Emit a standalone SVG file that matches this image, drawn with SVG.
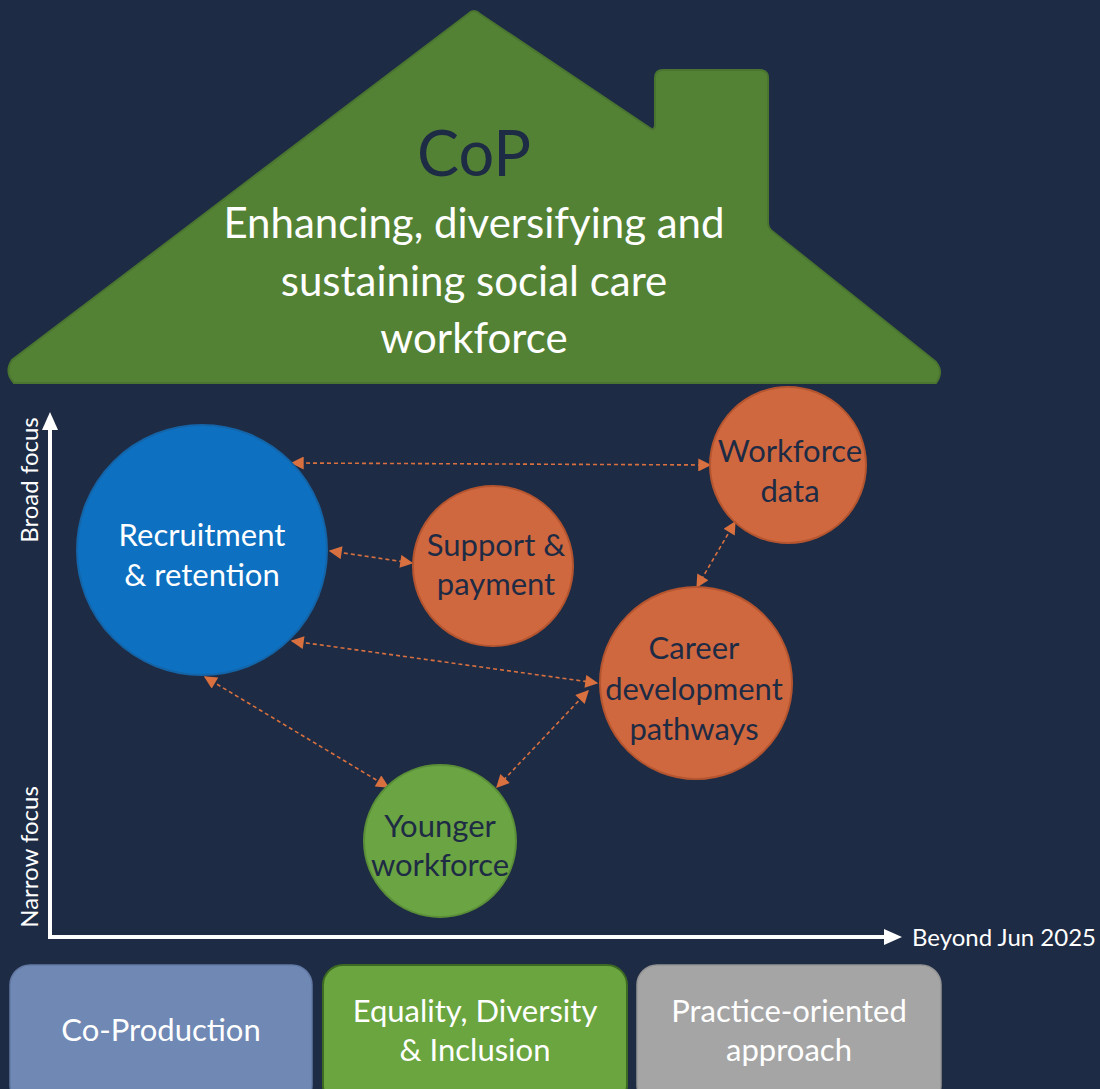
<svg xmlns="http://www.w3.org/2000/svg" width="1100" height="1089" viewBox="0 0 1100 1089">
<style>
text{font-family:Lato,"Open Sans","Liberation Sans",sans-serif;text-anchor:middle}
.w{fill:#ffffff}
.d{fill:#1e2b44}
.lbl{font-size:31px}
.ax{font-size:24px;fill:#ffffff}
.conn{stroke:#d8703f;stroke-width:1.6;stroke-dasharray:4 3;fill:none;marker-start:url(#ah);marker-end:url(#ah)}
.orange{fill:#d0683f;stroke:#b5552f;stroke-width:2}
.box{font-size:31px;fill:#ffffff}
</style>
<defs>
<marker id="ah" viewBox="0 0 10 10" refX="9" refY="5" markerWidth="14" markerHeight="13" markerUnits="userSpaceOnUse" orient="auto-start-reverse">
<path d="M0,0 L10,5 L0,10 z" fill="#d8703f"/>
</marker>
</defs>
<rect width="1100" height="1089" fill="#1e2b44"/>
<g id="house">
<path d="M468,14 Q474,8 480,14 L650,128 Q654,131 655,126 L655,78 Q655,70 663,70 L760,70 Q768,70 768,78 L768,222 Q768,228 772,231 L936,362 Q944,372 936,383 L14,383 Q4,372 12,360 Z" fill="#548235" stroke="#4a7530" stroke-width="2"/>
<text x="474" y="176" class="d" style="font-size:63px">CoP</text>
<text x="474" y="238" class="w" style="font-size:42px">Enhancing, diversifying and</text>
<text x="474" y="296" class="w" style="font-size:42px">sustaining social care</text>
<text x="474" y="353" class="w" style="font-size:42px">workforce</text>
</g>
<g id="axes">
<path d="M50,937 L50,428" stroke="#ffffff" stroke-width="4" fill="none"/>
<path d="M42,430 L50,412 L58,430 z" fill="#ffffff"/>
<path d="M48,937 L885,937" stroke="#ffffff" stroke-width="4" fill="none"/>
<path d="M884,929 L902,937 L884,945 z" fill="#ffffff"/>
<text transform="translate(38,480) rotate(-90)" class="ax">Broad focus</text>
<text transform="translate(38,857) rotate(-90)" class="ax">Narrow focus</text>
<text x="1004" y="946" class="ax">Beyond Jun 2025</text>
</g>
<g id="connectors">
<line class="conn" x1="292" y1="463" x2="710" y2="465"/>
<line class="conn" x1="330" y1="551" x2="412" y2="563"/>
<line class="conn" x1="292" y1="641" x2="597" y2="683"/>
<line class="conn" x1="205" y1="677" x2="388" y2="787"/>
<line class="conn" x1="588" y1="691" x2="497" y2="787"/>
<line class="conn" x1="735" y1="522" x2="697" y2="587"/>
</g>
<g id="recruitment">
<circle cx="202" cy="550" r="125" fill="#0e70c0" stroke="#1464a8" stroke-width="2"/>
<text x="202" y="546" class="w lbl">Recruitment</text>
<text x="202" y="586" class="w lbl">&amp; retention</text>
</g>
<g id="support">
<circle cx="493" cy="566" r="80" class="orange"/>
<text x="496" y="556" class="d lbl">Support &amp;</text>
<text x="496" y="595" class="d lbl">payment</text>
</g>
<g id="workforce-data">
<circle cx="788" cy="465" r="78" class="orange"/>
<text x="790" y="462" class="d lbl">Workforce</text>
<text x="790" y="502" class="d lbl">data</text>
</g>
<g id="career">
<circle cx="696" cy="683" r="96" class="orange"/>
<text x="694" y="659" class="d lbl">Career</text>
<text x="694" y="700" class="d lbl">development</text>
<text x="694" y="740" class="d lbl">pathways</text>
</g>
<g id="younger">
<circle cx="440" cy="841" r="76" fill="#6aa443" stroke="#5a8f38" stroke-width="2"/>
<text x="440" y="837" class="d lbl">Younger</text>
<text x="440" y="876" class="d lbl">workforce</text>
</g>
<g id="co-production">
<rect x="10" y="965" width="302" height="140" rx="20" fill="#7088b4" stroke="#6279a4" stroke-width="1.5"/>
<text x="161" y="1041" class="box">Co-Production</text>
</g>
<g id="edi">
<rect x="323" y="965" width="304" height="140" rx="20" fill="#6aa53f" stroke="#3d6a22" stroke-width="2"/>
<text x="475" y="1022" class="box">Equality, Diversity</text>
<text x="475" y="1061" class="box">&amp; Inclusion</text>
</g>
<g id="practice">
<rect x="637" y="965" width="304" height="140" rx="20" fill="#a5a5a5" stroke="#949494" stroke-width="1.5"/>
<text x="789" y="1022" class="box">Practice-oriented</text>
<text x="789" y="1061" class="box">approach</text>
</g>
</svg>
